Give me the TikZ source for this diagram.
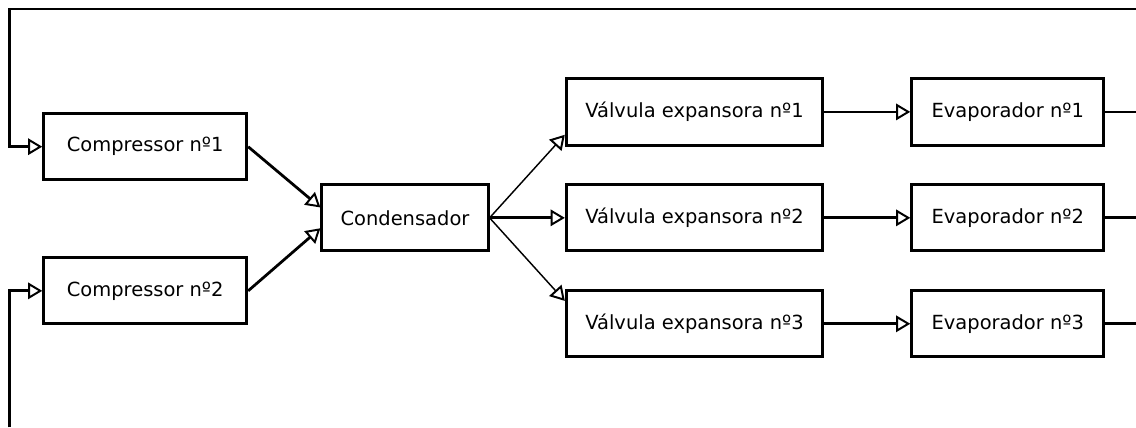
\documentclass[tikz,border=0pt]{standalone}
\usepackage{fontspec}
\setmainfont{DejaVu Sans}
\usetikzlibrary{arrows.meta, positioning}

\begin{document}
\begin{tikzpicture}[
node distance = 10mm and 20mm,
every node/.style = {draw, line width=2.3pt,
                     minimum height=17.7mm, inner xsep=2mm,
                     align=center, font=\fontsize{14.8}{17}\selectfont},
comp/.style  = {minimum width=54.2mm},
cond/.style  = {minimum width=44.4mm},
valve/.style = {minimum width=68.5mm},
evap/.style  = {minimum width=51.3mm},
pipe/.style  = {line width=2.1pt},
flow/.style  = {pipe, -{Triangle[open, length=3.8mm, width=4.4mm, line width=1.5pt]}},
                    ]
%---
\node (cond) [cond] {Condensador};

\node (c1) [comp, above left=0.5mm and 19.3mm of cond] {Compressor nº1};
\node (c2) [comp, below left=1mm and 19.3mm of cond] {Compressor nº2};

\node (v2) [valve, right=20.1mm of cond] {Válvula expansora nº2};
\node (v1) [valve, above=9.8mm of v2] {Válvula expansora nº1};
\node (v3) [valve, below=9.8mm of v2] {Válvula expansora nº3};

\node (e1) [evap, right=23mm of v1] {Evaporador nº1};
\node (e2) [evap, right=23mm of v2] {Evaporador nº2};
\node (e3) [evap, right=23mm of v3] {Evaporador nº3};

% return lines
\coordinate[left=8.7mm of c1.west]  (c1_in);
\coordinate[left=8.7mm of c2.west]  (c2_in);
\coordinate[above=36.8mm of c1_in]  (top_l);
\coordinate[below=36.5mm of c2_in]  (bot_l);
\coordinate[right=8.2mm of e1.east] (e1_out);
\coordinate[right=8.2mm of e2.east] (e2_out);
\coordinate[right=8.2mm of e3.east] (e3_out);

% frame
\coordinate[left=2.6mm of bot_l]  (sw);
\coordinate[above=2.4mm of top_l] (top_edge);
\useasboundingbox (sw) rectangle (e1_out |- top_edge);
\clip (sw) rectangle (e1_out |- top_edge);

\path[flow]
        (c1.east) edge (cond.173)
        (c2.east) edge (cond.187)
        (cond.east) edge (v2.west)
        (v1.east) edge (e1.west)
        (v2.east) edge (e2.west)
        (v3.east) edge (e3.west);
\path[flow, line width=1.1pt]
        (cond.east) edge (v1.190)
        (cond.east) edge (v3.170);

\draw[pipe] (e1.east) -- (e1_out);
\draw[pipe] (e2.east) -- (e2_out);
\draw[pipe] (e3.east) -- (e3_out);
\draw[flow] (e1_out |- top_l) -- (top_l) -- (c1_in) -- (c1.west);
\draw[flow] (bot_l) -- (c2_in) -- (c2.west);

\end{tikzpicture}
\end{document}
